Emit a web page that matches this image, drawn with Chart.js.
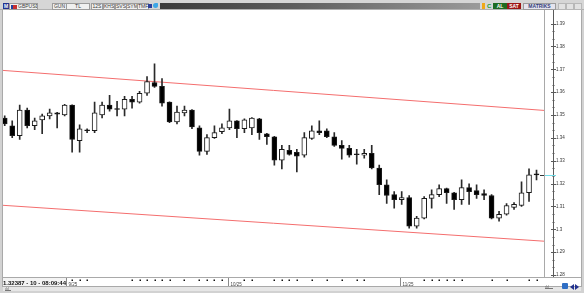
<!DOCTYPE html>
<html>
<head>
<meta charset="utf-8">
<script src="https://cdn.jsdelivr.net/npm/chart.js@4.4.0/dist/chart.umd.min.js"></script>
<style>
    body { margin: 0; width: 584px; height: 293px; background: #d2d2d2; position: relative; overflow: hidden; font-family: "Liberation Sans", Arial, sans-serif; }
    #wrap { position: absolute; left: 0; top: 0; width: 584px; height: 293px; }
    .tb { position: absolute; left: 0; top: 0; width: 584px; height: 10px; background: #d6d6d6; border-bottom: 1px solid #b0b0b0; box-sizing: border-box; z-index: 2; }
    .bx { position: absolute; top: 3px; height: 5px; border: 1px solid #9c9c9c; background: #f0f0f0; font: 5px/5px "Liberation Sans", Arial, sans-serif; color: #3a3a3a; text-align: center; white-space: nowrap; overflow: hidden; }
    .ic { position: absolute; z-index: 3; }
    .foot { position: absolute; left: 3px; top: 287px; width: 578px; height: 4px; background: #e6e6e6; z-index: 2; }
</style>
</head>
<body>
<div id="wrap"><canvas id="chart" width="584" height="293"></canvas></div>

<div class="tb">
    <div class="ic" style="left:3px;top:3px;width:6px;height:6px;background:#23328f;color:#fff;font:bold 5px/6px Arial;text-align:center">M</div>
    <div class="bx" style="left:9px;width:27px;text-align:left">
        <span style="display:inline-block;width:4px;height:4px;background:#c83030;border-left:2px solid #2040a0;margin:0 1px 0 1px;vertical-align:top;margin-top:0.5px"></span>GBPUSD
    </div>
    <div class="bx" style="left:52px;width:13px">GUN</div>
    <div class="bx" style="left:66px;width:22px">TL</div>
    <div class="bx" style="left:91px;width:10px">12S</div>
    <div class="bx" style="left:103px;width:10px">KHS</div>
    <div class="bx" style="left:115px;width:10px">SVS</div>
    <div class="bx" style="left:126px;width:10px">SYM</div>
    <div class="bx" style="left:137px;width:10px">TMF</div>
    <div class="ic" style="left:148px;top:4px;width:4px;height:4px;background:#2b3f9a"></div>
    <div class="ic" style="left:153px;top:3px;width:5px;height:5px;background:#3da6e6;border-radius:3px 1px 3px 3px"></div>
    <div class="ic" style="left:160px;top:3px;width:320px;height:6px;background:linear-gradient(to right,#3a3a3a,#5c5c5c 40%,#9a9a9a)"></div>
    <div class="ic" style="left:482px;top:3px;width:3px;height:6px;background:#f0a818"></div>
    <div class="ic" style="left:487px;top:3px;width:5px;height:6px;color:#1c9c2c;font:bold 6px/6px Arial">C</div>
    <div class="ic" style="left:493px;top:3px;width:14px;height:6px;background:#1d6b22;color:#fff;font:bold 5px/6px Arial;text-align:center">AL</div>
    <div class="ic" style="left:507px;top:3px;width:14px;height:6px;background:#9c1616;color:#fff;font:bold 5px/6px Arial;text-align:center">SAT</div>
    <div class="bx" style="left:523px;width:31px;background:#e4e4ee;color:#33407a;font-weight:bold">MATRIKS</div>
    <div class="ic" style="left:558px;top:3px;width:6px;height:5px;background:#e2e2e2;border:1px solid #b8b8b8"></div>
    <div class="ic" style="left:566px;top:3px;width:6px;height:5px;background:#e2e2e2;border:1px solid #b8b8b8"></div>
    <div class="ic" style="left:574px;top:3px;width:6px;height:5px;background:#e2e2e2;border:1px solid #b8b8b8"></div>
</div>

<div class="foot"></div>
<div class="ic" style="left:5px;top:287px;width:6px;height:3px;border-bottom:1px solid #777;font:4px/3px Arial;color:#666">ılıl</div>
<div class="ic" style="left:545px;top:285px;width:8px;height:3px;border-bottom:1px solid #777;font:4px/3px Arial;color:#666">ılıl</div>
<div class="ic" style="left:562px;top:283px;width:6px;height:6px;background:#2f6ec4;border-radius:1px"></div>
<div class="ic" style="left:570px;top:284px;width:0;height:0;border-top:3px solid transparent;border-bottom:3px solid transparent;border-right:4px solid #23328f"></div>
<div class="ic" style="left:575px;top:284px;width:0;height:0;border-top:3px solid transparent;border-bottom:3px solid transparent;border-left:4px solid #23328f"></div>

<script>
// GBPUSD daily candles
var opens = [
    1.3487, 1.3453, 1.3410, 1.3522, 1.3453, 1.3479, 1.3496, 1.3509, 1.3500, 1.3543,
    1.3388, 1.3431, 1.3431, 1.3500, 1.3543, 1.3526, 1.3526, 1.3569, 1.3556, 1.3595,
    1.3642, 1.3625, 1.3556, 1.3470, 1.3509, 1.3522, 1.3444, 1.3341, 1.3401, 1.3427,
    1.3444, 1.3474, 1.3440, 1.3444, 1.3483, 1.3418, 1.3405, 1.3302, 1.3345, 1.3337,
    1.3324, 1.3397, 1.3431, 1.3431, 1.3405, 1.3367, 1.3354, 1.3328, 1.3324, 1.3332,
    1.3268, 1.3195, 1.3152, 1.3130, 1.3139, 1.3014, 1.3049, 1.3135, 1.3152, 1.3178,
    1.3160, 1.3130, 1.3182, 1.3169, 1.3156, 1.3148, 1.3049, 1.3066, 1.3096, 1.3104,
    1.3160, 1.3238
];
var highs = [
    1.3496, 1.3474, 1.3543, 1.3530, 1.3487, 1.3504, 1.3526, 1.3512, 1.3547, 1.3545,
    1.3457, 1.3440, 1.3556, 1.3556, 1.3586, 1.3560, 1.3582, 1.3582, 1.3604, 1.3668,
    1.3724, 1.3659, 1.3558, 1.3539, 1.3539, 1.3524, 1.3453, 1.3414, 1.3453, 1.3461,
    1.3526, 1.3476, 1.3483, 1.3489, 1.3485, 1.3420, 1.3407, 1.3367, 1.3367, 1.3350,
    1.3423, 1.3453, 1.3474, 1.3440, 1.3423, 1.3388, 1.3367, 1.3350, 1.3350, 1.3367,
    1.3281, 1.3216, 1.3165, 1.3165, 1.3148, 1.3057, 1.3143, 1.3173, 1.3195, 1.3180,
    1.3162, 1.3216, 1.3199, 1.3195, 1.3173, 1.3152, 1.3079, 1.3113, 1.3117, 1.3208,
    1.3264, 1.3259
];
var lows = [
    1.3453, 1.3401, 1.3393, 1.3444, 1.3436, 1.3418, 1.3483, 1.3444, 1.3496, 1.3337,
    1.3337, 1.3423, 1.3423, 1.3487, 1.3517, 1.3496, 1.3496, 1.3530, 1.3552, 1.3586,
    1.3621, 1.3539, 1.3466, 1.3461, 1.3496, 1.3440, 1.3324, 1.3328, 1.3397, 1.3418,
    1.3436, 1.3401, 1.3423, 1.3414, 1.3393, 1.3371, 1.3281, 1.3264, 1.3324, 1.3251,
    1.3315, 1.3393, 1.3414, 1.3401, 1.3363, 1.3307, 1.3315, 1.3285, 1.3311, 1.3264,
    1.3152, 1.3113, 1.3092, 1.3109, 1.3005, 1.3005, 1.3045, 1.3092, 1.3143, 1.3113,
    1.3087, 1.3109, 1.3109, 1.3135, 1.3130, 1.3045, 1.3036, 1.3062, 1.3087, 1.3100,
    1.3122, 1.3216
];
var closes = [
    1.3461, 1.3410, 1.3522, 1.3453, 1.3474, 1.3496, 1.3509, 1.3504, 1.3543, 1.3393,
    1.3440, 1.3434, 1.3509, 1.3543, 1.3526, 1.3524, 1.3569, 1.3556, 1.3595, 1.3646,
    1.3625, 1.3552, 1.3470, 1.3513, 1.3522, 1.3448, 1.3341, 1.3401, 1.3423, 1.3444,
    1.3474, 1.3440, 1.3479, 1.3487, 1.3423, 1.3405, 1.3302, 1.3350, 1.3328, 1.3320,
    1.3401, 1.3431, 1.3423, 1.3405, 1.3367, 1.3354, 1.3324, 1.3326, 1.3332, 1.3268,
    1.3195, 1.3148, 1.3130, 1.3139, 1.3014, 1.3049, 1.3135, 1.3152, 1.3178, 1.3160,
    1.3130, 1.3182, 1.3165, 1.3152, 1.3148, 1.3049, 1.3066, 1.3104, 1.3109, 1.3160,
    1.3238, 1.32387
];

// trend channel (red lines), start/end in candle index units
var channelX = [-0.23, 72];
var upperChannel = [1.3695, 1.3520];
var lowerChannel = [1.3105, 1.2948];

var yTicks = [1.39, 1.38, 1.37, 1.36, 1.35, 1.34, 1.33, 1.32, 1.31, 1.3, 1.29, 1.28];
var monthLabels = ["9/25", "10/25", "11/25"];
var monthAt = [8.2, 29.8, 52.8];
var dotAt = [9, 10, 11, 17, 18, 19, 20, 21, 22, 24, 26, 27, 28, 29, 32, 33, 36, 37, 38, 39,
    41, 43, 45, 47, 48, 56, 57, 58, 59, 60, 61, 65, 67, 70, 71];
var lastText = "1.32387 - 10 - 08:09:44";

function isDown(i) {
    return closes[i] < opens[i] || Math.abs(closes[i] - opens[i]) < 0.0004;
}

var bodies = opens.map(function (o, i) { return { x: i, y: [o, closes[i]] }; });
var wicks = lows.map(function (l, i) { return { x: i, y: [l, highs[i]] }; });

var chromePlugin = {
    id: "chrome",
    beforeDraw: function (chart) {
        var ctx = chart.ctx;
        var a = chart.chartArea;
        var y = chart.scales.y;
        ctx.save();
        ctx.fillStyle = "#ffffff";
        ctx.fillRect(3, 10, 578, 277);

        ctx.strokeStyle = "#a9a9a9";
        ctx.lineWidth = 1;
        ctx.beginPath();
        ctx.moveTo(2.5, 10); ctx.lineTo(2.5, 287);
        ctx.moveTo(a.right + 0.5, 10); ctx.lineTo(a.right + 0.5, 278);
        ctx.moveTo(581.5, 10); ctx.lineTo(581.5, 287);
        ctx.moveTo(3, 277.5); ctx.lineTo(581, 277.5);
        ctx.moveTo(3, 286.5); ctx.lineTo(581, 286.5);
        ctx.stroke();

        // price axis line with major and minor ticks
        ctx.strokeStyle = "#5a5a5a";
        ctx.beginPath();
        ctx.moveTo(553.5, 10); ctx.lineTo(553.5, 277);
        yTicks.forEach(function (v) {
            var p = Math.round(y.getPixelForValue(v)) + 0.5;
            ctx.moveTo(551, p); ctx.lineTo(556, p);
        });
        for (var i = 0; i < yTicks.length - 1; i++) {
            for (var k = 1; k < 3; k++) {
                var v = yTicks[i] - k * (yTicks[i] - yTicks[i + 1]) / 3;
                var p = Math.round(y.getPixelForValue(v)) + 0.5;
                ctx.moveTo(552.5, p); ctx.lineTo(554.5, p);
            }
        }
        ctx.stroke();
        ctx.restore();
    },
    afterDraw: function (chart) {
        var ctx = chart.ctx;
        var x = chart.scales.x;
        var y = chart.scales.y;
        ctx.save();

        // current price marker
        var py = Math.round(y.getPixelForValue(closes[closes.length - 1])) + 0.5;
        ctx.lineWidth = 1;
        ctx.strokeStyle = "#333";
        ctx.beginPath(); ctx.moveTo(540, py); ctx.lineTo(544, py); ctx.stroke();
        ctx.strokeStyle = "#6fdde8";
        ctx.beginPath(); ctx.moveTo(545, py); ctx.lineTo(556, py); ctx.stroke();

        // time axis: dots, month ticks and labels
        ctx.fillStyle = "#111";
        dotAt.forEach(function (d) {
            ctx.fillRect(Math.round(x.getPixelForValue(d)) - 0.5, 279.5, 1.5, 1.5);
        });
        ctx.strokeStyle = "#8a8a8a";
        ctx.font = "4.5px 'Liberation Sans', Arial, sans-serif";
        monthAt.forEach(function (m, i) {
            var px = Math.round(x.getPixelForValue(m)) + 0.5;
            ctx.beginPath(); ctx.moveTo(px, 278); ctx.lineTo(px, 286); ctx.stroke();
            ctx.fillStyle = "#444";
            ctx.fillText(monthLabels[i], px + 2, 286);
        });

        ctx.fillStyle = "#f4f4f4";
        ctx.fillRect(3, 278, 63, 8);
        ctx.fillStyle = "#111";
        ctx.font = "bold 6px 'Liberation Sans', Arial, sans-serif";
        ctx.fillText(lastText, 3, 284.5);
        ctx.restore();
    }
};

new Chart(document.getElementById("chart"), {
    type: "bar",
    data: {
        datasets: [
            {
                label: "body",
                data: bodies,
                order: 0,
                grouped: false,
                barThickness: 5,
                minBarLength: 1,
                borderWidth: 1,
                borderSkipped: false,
                borderColor: "#1a1a1a",
                backgroundColor: function (c) {
                    return isDown(c.dataIndex) ? "#000000" : "#ffffff";
                },
            },
            {
                label: "wick",
                data: wicks,
                order: 1,
                grouped: false,
                barThickness: 1,
                borderWidth: 0,
                backgroundColor: "#2a2a2a",
            },
            {
                type: "line",
                label: "upper",
                data: channelX.map(function (cx, i) { return { x: cx, y: upperChannel[i] }; }),
                order: 2,
                borderColor: "#f46e6e",
                borderWidth: 1,
                pointRadius: 0,
                tension: 0,
            },
            {
                type: "line",
                label: "lower",
                data: channelX.map(function (cx, i) { return { x: cx, y: lowerChannel[i] }; }),
                order: 2,
                borderColor: "#f46e6e",
                borderWidth: 1,
                pointRadius: 0,
                tension: 0,
            },
        ],
    },
    options: {
        responsive: false,
        animation: false,
        devicePixelRatio: 1,
        layout: { padding: { left: 3, top: 10, right: 0, bottom: 16 } },
        plugins: { legend: { display: false }, tooltip: { enabled: false } },
        scales: {
            x: {
                type: "linear",
                min: -0.23,
                max: 72,
                offset: false,
                grid: { offset: false },
                display: false,
            },
            y: {
                position: "right",
                min: 1.279141,
                max: 1.393867,
                border: { display: false },
                grid: { display: false, drawTicks: false },
                afterFit: function (s) { s.width = 40; },
                afterBuildTicks: function (s) {
                    s.ticks = yTicks.map(function (v) { return { value: v }; });
                },
                ticks: {
                    autoSkip: false,
                    padding: 12,
                    color: "#333",
                    font: { size: 4.5, family: "'Liberation Sans', Arial, sans-serif" },
                    callback: function (v) { return String(Number(v.toFixed(2))); },
                },
            },
        },
    },
    plugins: [chromePlugin],
});
</script>
</body>
</html>
